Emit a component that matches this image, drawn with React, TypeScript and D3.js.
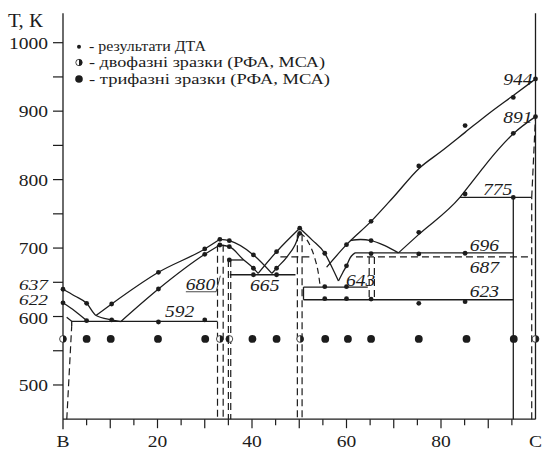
import React from 'react';
import * as d3 from 'd3';

const W = 542, H = 453;
const FONT = "'Liberation Serif', 'Times New Roman', serif";
const INK = '#1c1c1c';

// ---- axes ----
const xDomain: [number, number] = [0, 100];
const yDomain: [number, number] = [450, 1000];
const yTickValues = [500, 550, 600, 650, 700, 750, 800, 850, 900, 950, 1000];
const yLabelValues = [500, 600, 700, 800, 900, 1000];
const xTickValues = d3.range(5, 100, 5);
const xLabelValues = [0, 20, 40, 60, 80, 100];
const xLabelTexts = ['B', '20', '40', '60', '80', 'C'];
const yTop = 1043;

// ---- solid curves [mol %, T K] ----
const curve637 = [[0, 639.8], [2.5, 630], [5, 619.3], [7, 601.5], [10.3, 595], [12.2, 592.5]];
const curve622 = [[0, 620], [2.5, 608], [5, 594]];
const risingUpper = [[7, 601.5], [10.3, 618.3], [20.2, 664.6], [30, 698.7], [33.2, 712.8]];
const risingLower = [[12.2, 592.5], [20.2, 640.2], [30, 690.9], [33.2, 704.5]];
const peak1RightUpper = [[33.2, 712.8], [35.2, 710.8], [40.3, 690], [44.2, 663]];
const peak1RightLower = [[33.2, 704.5], [35.2, 702], [38.2, 683], [40.3, 670.5], [41.3, 663]];
const peak2LeftUpper = [[41.3, 663], [45.2, 694.7], [50.1, 729]];
const peak2LeftLower = [[44.2, 663], [45.2, 670.5], [47.5, 688], [49.1, 704.5], [50.1, 721.6]];
const peak2RightUpper = [[50.1, 729], [52.7, 712], [55.4, 692.4], [57, 671], [58.3, 652]];
const rootStroke = [[58.3, 652], [59.2, 664], [60, 674], [60.8, 686], [61.8, 693]];
const liquidus944 = [[55.8, 672], [60, 705], [65.2, 739], [70, 775], [75.3, 816], [80, 841], [85.1, 869], [90, 896], [95.3, 923], [100, 947]];
const arc711 = [[60.8, 711], [63, 712.5], [65.2, 711], [68, 704], [71, 693]];
const curve891 = [[71, 693], [75.3, 720], [84, 774], [86.5, 796], [89, 818], [92, 843], [95.3, 867], [100, 892]];
const leftArm = [[0.78, 599], [1.84, 593], [1.84, 586]];

// ---- dashed curve ----
const peak2RightDashed = [[50.1, 721.6], [51.2, 716], [52.4, 702], [53.3, 685], [54, 665], [54.4, 646]];

// ---- horizontal / vertical solid segments: [c1, T1, c2, T2] ----
const solidSegments = [
  [1.84, 593, 32.7, 593],
  [35.2, 682.6, 38.2, 682.6],
  [35.3, 661, 49.2, 661],
  [50.9, 643, 64.5, 643],
  [50.9, 624.5, 95.3, 624.5],
  [50.9, 624.5, 50.9, 643],
  [61.8, 693, 95.3, 693],
  [84, 774, 99.2, 774],
  [95.3, 450, 95.3, 774],
  [100, 450, 100, yTop],
];

// ---- dashed segments ----
const dashedSegments = [
  [0.8, 450, 1.84, 586],
  [32.7, 705, 32.7, 450],
  [33.9, 705, 33.9, 450],
  [35.0, 682.6, 35.0, 450],
  [35.5, 682.6, 35.5, 450],
  [49.6, 720, 49.6, 450],
  [50.6, 720, 50.6, 450],
  [64.8, 687, 64.8, 624.5],
  [65.9, 687, 65.9, 624.5],
  [99.2, 450, 99.2, 774],
  [99.2, 774, 100, 892],
  [46, 687, 53, 687],
  [62, 687, 99.2, 687],
];

// ---- DTA points ----
const dtaC = [0, 0, 5, 5, 10.3, 10.3, 20.2, 20.2, 20.2, 30, 30, 30, 33.2, 33.2, 35.2, 35.2, 35.2,
  40.3, 40.3, 40.3, 45.2, 45.2, 45.2, 50.1, 50.1, 55.4, 55.4, 55.4, 60, 60, 60, 60,
  65.2, 65.2, 65.2, 65.2, 75.3, 75.3, 75.3, 75.3, 85.1, 85.1, 85.1, 85.1, 95.3, 95.3, 95.3, 100, 100];
const dtaT = [639.8, 620, 619.3, 594, 618.3, 595, 664.6, 640.2, 592, 698.7, 690.9, 595, 712.8, 704.5, 710.8, 702, 682.6,
  690, 670.5, 661, 694.7, 670.5, 661, 729, 721.6, 692.4, 643.6, 626, 705, 674, 643.6, 626,
  739, 711, 692, 625.5, 820, 723, 691.5, 619.3, 879, 779, 692.4, 621.7, 920, 867.6, 774, 947, 892];

// ---- XRD/MSA samples ----
const sampleT = 567.2;
const threePhaseC = [5, 10.1, 20.1, 30.1, 40.1, 45.2, 55.5, 60.3, 65.2, 75.3, 85.4, 95.4];
const twoPhaseC = [0, 33.2, 35.2, 50.2, 100];
const twoPhaseSide = ['R', 'R', 'L', 'R', 'R'];

// ---- labels ----
const labelTexts = ['944', '891', '775', '696', '687', '623', '643', '665', '680', '592'];
const labelAnchorC = [100, 100, 84, 86.1, 86.1, 86.1, 59.9, 39.6, 26.0, 21.6];
const labelAnchorT = [946, 892, 774, 693, 687, 624.5, 643, 661, 680, 593];

const legendTexts = ['- результати ДТА', '- двофазні зразки (РФА, МСА)', '- трифазні зразки (РФА, МСА)'];
const legendWidths = [117, 236, 241];

const x = d3.scaleLinear().domain(xDomain).range([63, 535.5]);
const y = d3.scaleLinear().domain(yDomain).range([419.2, 42.7]);

const lineGen = d3.line<number[]>().x(d => x(d[0])).y(d => y(d[1])).curve(d3.curveMonotoneX);
const linGen = d3.line<number[]>().x(d => x(d[0])).y(d => y(d[1]));

function Txt({ px, py, children, anchor = 'start', italic = false, size = 17, sx = 1.15 }: any) {
  return (
    <text transform={`translate(${px},${py}) scale(${sx},1)`} textAnchor={anchor}
      fontFamily={FONT} fontSize={size} fontStyle={italic ? 'italic' : 'normal'} fill={INK}>{children}</text>
  );
}

function HalfDot({ cx, cy, r, side }: any) {
  const sweep = side === 'R' ? 1 : 0;
  return (
    <g>
      <circle cx={cx} cy={cy} r={r} fill="#fff" stroke={INK} strokeWidth={0.8} />
      <path d={`M${cx},${cy - r} A${r},${r} 0 0 ${sweep} ${cx},${cy + r} Z`} fill={INK} />
    </g>
  );
}

export default function App() {
  const curves = [curve637, curve622, risingUpper, risingLower, peak1RightUpper, peak1RightLower,
    peak2LeftUpper, peak2LeftLower, peak2RightUpper, rootStroke, liquidus944, arc711, curve891];
  const labelDx = [-3, -3, 23, 0, 0, 0, 0, 0, 0, 0];
  const labelDy = [5, 6, -2, -2, 16, -3, -1, 16, 28, -4];
  const labelAnchors = ['end', 'end', 'start', 'start', 'start', 'start', 'start', 'start', 'start', 'start'];
  return (
    <svg width={W} height={H} style={{ position: 'absolute', left: 0, top: 0, background: '#fff' }}>
      <rect width={W} height={H} fill="#fff" />
      {/* axes */}
      <line x1={x(0)} x2={x(0)} y1={y(yTop)} y2={y(450) + 10} stroke={INK} strokeWidth={1.3} />
      <line x1={x(0)} x2={x(100)} y1={y(450)} y2={y(450)} stroke={INK} strokeWidth={1.3} />
      {yTickValues.map(v => (
        <line key={'yt' + v} x1={x(0) - 10} x2={x(0)} y1={y(v)} y2={y(v)} stroke={INK} strokeWidth={1.2} />
      ))}
      {yLabelValues.map(v => (
        <Txt key={'yl' + v} px={x(0) - 15} py={y(v) + (v === 600 ? 7 : 6)} anchor="end">{v}</Txt>
      ))}
      <Txt px={x(0) - 15} py={y(637) - 1.5} anchor="end" italic size={14} sx={1.38}>637</Txt>
      <Txt px={x(0) - 15} py={y(622) + 3.5} anchor="end" italic size={14} sx={1.38}>622</Txt>
      <Txt px={8} py={27} size={18}>Т, К</Txt>
      {xTickValues.map(v => (
        <line key={'xt' + v} x1={x(v)} x2={x(v)} y1={y(450)} y2={y(450) + (v % 10 === 0 ? 9 : 6)} stroke={INK} strokeWidth={1.2} />
      ))}
      {xLabelValues.map((v, i) => (
        <Txt key={'xl' + v} px={x(v)} py={y(450) + 28} anchor="middle">{xLabelTexts[i]}</Txt>
      ))}

      {/* solid curves */}
      {curves.map((c, i) => (
        <path key={'c' + i} d={lineGen(c) || ''} fill="none" stroke={INK} strokeWidth={1.3} />
      ))}
      <path d={linGen(leftArm) || ''} fill="none" stroke={INK} strokeWidth={1.3} />
      {solidSegments.map((s, i) => (
        <line key={'s' + i} x1={x(s[0])} y1={y(s[1])} x2={x(s[2])} y2={y(s[3])} stroke={INK} strokeWidth={1.3} />
      ))}
      {/* dashed */}
      <path d={lineGen(peak2RightDashed) || ''} fill="none" stroke={INK} strokeWidth={1.2} strokeDasharray="6,4" />
      {dashedSegments.map((s, i) => (
        <line key={'d' + i} x1={x(s[0])} y1={y(s[1])} x2={x(s[2])} y2={y(s[3])} stroke={INK} strokeWidth={1.2} strokeDasharray="7,4" />
      ))}

      {/* DTA points */}
      {dtaC.map((c, i) => (
        <circle key={'p' + i} cx={x(c)} cy={y(dtaT[i])} r={2.4} fill={INK} />
      ))}
      {/* sample row */}
      {threePhaseC.map((c, i) => (
        <circle key={'tp' + i} cx={x(c)} cy={y(sampleT)} r={3.9} fill={INK} />
      ))}
      {twoPhaseC.map((c, i) => (
        <HalfDot key={'hp' + i} cx={x(c)} cy={y(sampleT)} r={3.4} side={twoPhaseSide[i]} />
      ))}

      {/* value labels */}
      {labelTexts.map((t, i) => (
        <Txt key={'lb' + i} px={x(labelAnchorC[i]) + labelDx[i]} py={y(labelAnchorT[i]) + labelDy[i]} anchor={labelAnchors[i]} italic>{t}</Txt>
      ))}
      {/* 680 underline + leader */}
      <line x1={x(26.0)} x2={x(32.4)} y1={y(680) + 30} y2={y(680) + 30} stroke={INK} strokeWidth={0.8} />
      <line x1={x(32.4)} x2={x(33.3)} y1={y(680) + 30} y2={y(680) + 14} stroke={INK} strokeWidth={0.8} />

      {/* legend */}
      <circle cx={79} cy={46.7} r={2} fill={INK} />
      <HalfDot cx={79} cy={62.5} r={3.2} side="R" />
      <circle cx={79} cy={79} r={3.8} fill={INK} />
      {legendTexts.map((t, i) => (
        <text key={'lg' + i} x={89} y={51 + i * 16.3} fontFamily={FONT} fontSize={15} fill={INK}
          textLength={legendWidths[i]} lengthAdjust="spacingAndGlyphs">{t}</text>
      ))}
    </svg>
  );
}
